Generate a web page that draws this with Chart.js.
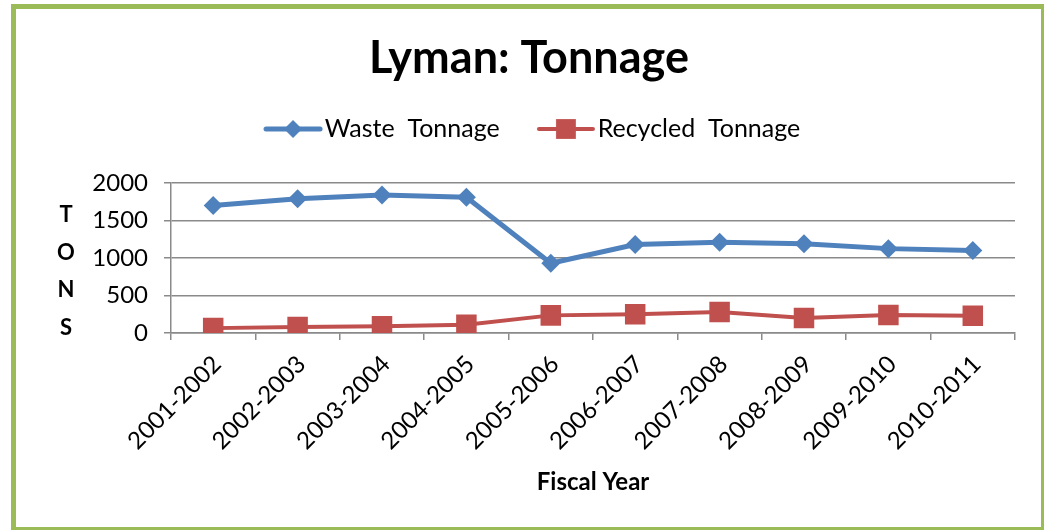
<!DOCTYPE html>
<html><head><meta charset="utf-8">
<script src="https://cdn.jsdelivr.net/npm/chart.js@4.4.1/dist/chart.umd.min.js"></script>
<style>
html,body{margin:0;padding:0;background:#fff;width:1044px;height:530px;overflow:hidden}
#wrap{position:absolute;left:0;top:0;width:1044px;height:530px}
#frame{position:absolute;left:11px;top:4px;width:1035px;height:528px;box-sizing:border-box;border:5px solid #9BBB59;pointer-events:none}
</style></head><body>
<div id="wrap"><canvas id="c" width="1044" height="530"></canvas></div>
<div id="frame"></div>
<script>
// ---- data ----
const categories = ['2001-2002','2002-2003','2003-2004','2004-2005','2005-2006','2006-2007','2007-2008','2008-2009','2009-2010','2010-2011'];
const wasteTonnage = [1700, 1790, 1840, 1810, 930, 1180, 1210, 1190, 1125, 1100];
const recycledTonnage = [65, 80, 90, 110, 235, 250, 280, 200, 240, 230];
const yTickValues = [0, 500, 1000, 1500, 2000];
const seriesNames = ['Waste  Tonnage', 'Recycled  Tonnage'];
const yAxisLetters = ['T', 'O', 'N', 'S'];
const chartTitle = 'Lyman: Tonnage';
const xAxisTitle = 'Fiscal Year';

const BLUE = '#4F81BD', RED = '#C0504D', GRID = '#8A8A8A';
const FONT = 'Lato';

function legendIcon(color, style, lineW, r) {
  const c = document.createElement('canvas');
  c.width = 96; c.height = 30;
  const g = c.getContext('2d');
  g.strokeStyle = color; g.fillStyle = color; g.lineWidth = lineW; g.lineCap = 'round';
  g.beginPath(); g.moveTo(29, 15); g.lineTo(83, 15); g.stroke();
  Chart.helpers.drawPoint(g, {pointStyle: style, radius: r, borderWidth: 0, rotation: 0}, 56, 15);
  return c;
}

const tonsPlugin = {
  id: 'tons',
  afterDraw(chart) {
    const {ctx, chartArea} = chart;
    ctx.save();
    ctx.font = 'bold 22px ' + FONT;
    ctx.fillStyle = '#000';
    ctx.textAlign = 'center';
    ctx.textBaseline = 'middle';
    yAxisLetters.forEach((ch, i) => ctx.fillText(ch, 66, chartArea.top + 32 + i * 37.7));
    ctx.restore();
  }
};

function build() {
  const icons = [legendIcon(BLUE, 'rectRot', 5, 9), legendIcon(RED, 'rect', 4, 14)];
  new Chart(document.getElementById('c'), {
    type: 'line',
    data: {
      labels: categories,
      datasets: [
        {label: seriesNames[0], data: wasteTonnage, borderColor: BLUE, backgroundColor: BLUE, borderWidth: 5,
         pointStyle: 'rectRot', pointRadius: 9.5, pointHoverRadius: 9.5, pointBorderWidth: 0, tension: 0},
        {label: seriesNames[1], data: recycledTonnage, borderColor: RED, backgroundColor: RED, borderWidth: 4,
         pointStyle: 'rect', pointRadius: 14.5, pointHoverRadius: 14.5, pointBorderWidth: 0, tension: 0}
      ]
    },
    options: {
      responsive: false,
      animation: false,
      events: [],
      layout: {padding: {left: 43, right: 29, top: 0, bottom: 20}},
      plugins: {
        title: {display: true, text: chartTitle, color: '#000', font: {family: FONT, size: 45, weight: 'bold'},
                padding: {top: 31, bottom: 0.5}},
        subtitle: {display: true, text: ' ', weight: 500, font: {size: 10, lineHeight: 1}, padding: {top: 21.5, bottom: 0}},
        legend: {
          display: true, position: 'top',
          labels: {
            usePointStyle: true, pointStyleWidth: 54.5, padding: 31, color: '#000',
            font: {family: FONT, size: 25},
            generateLabels(chart) {
              return chart.data.datasets.map((ds, i) => ({
                text: ds.label, pointStyle: icons[i], fillStyle: ds.backgroundColor,
                strokeStyle: ds.borderColor, lineWidth: 0, hidden: false, datasetIndex: i, fontColor: '#000'
              }));
            }
          }
        },
        tooltip: {enabled: false}
      },
      scales: {
        x: {
          offset: true,
          grid: {display: true, drawOnChartArea: false, drawTicks: true, tickLength: 7, color: GRID, lineWidth: 1.5, offset: true},
          border: {display: true, color: GRID, width: 1.5},
          ticks: {color: '#000', font: {family: FONT, size: 24}, minRotation: 45, maxRotation: 45, autoSkip: false, padding: 10, labelOffset: 4},
          title: {display: true, text: xAxisTitle, color: '#000', font: {family: FONT, size: 24, weight: 'bold'}, padding: {top: 0, bottom: 13}},
          afterFit(scale) { scale.height = 177; }
        },
        y: {
          min: 0, max: 2000,
          afterBuildTicks(scale) { scale.ticks = yTickValues.map(v => ({value: v})); },
          grid: {color: GRID, lineWidth: 1.5, tickLength: 7},
          border: {display: true, color: GRID, width: 1.5},
          ticks: {color: '#000', font: {family: FONT, size: 24}, padding: 16, callback: v => String(v)},
          afterFit(scale) { scale.width = 128; }
        }
      }
    },
    plugins: [tonsPlugin]
  });
}

Promise.all([
  document.fonts.load('bold 45px Lato'),
  document.fonts.load('24px Lato'),
  document.fonts.load('bold 22px Lato')
]).then(build, build);
</script>
</body></html>
